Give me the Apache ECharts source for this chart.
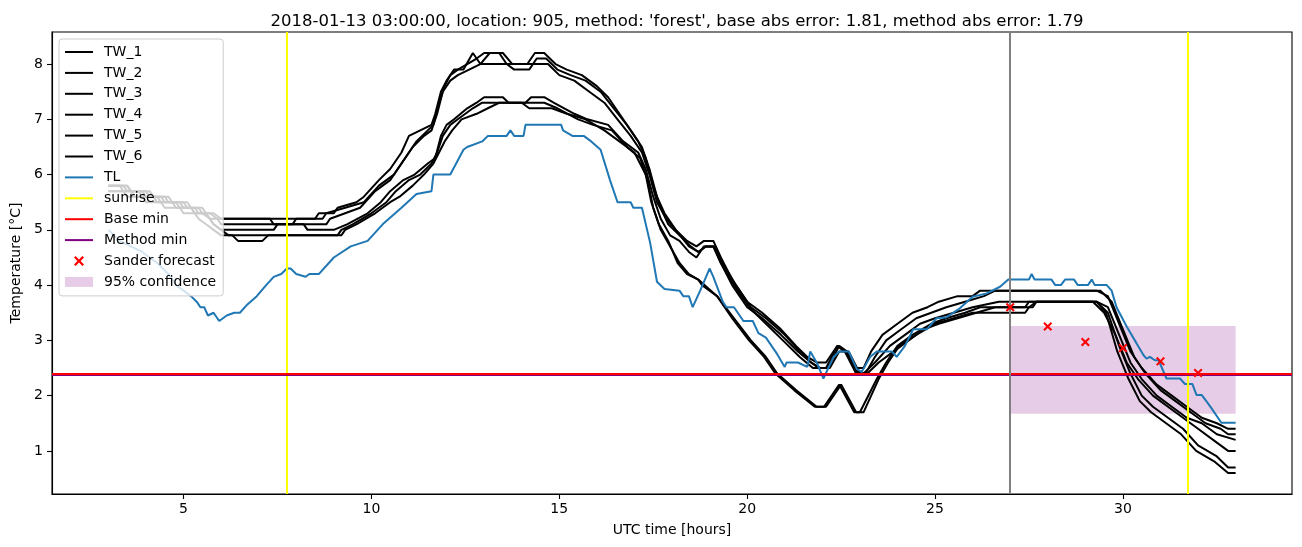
<!DOCTYPE html>
<html>
<head>
<meta charset="utf-8">
<script src="https://cdn.jsdelivr.net/npm/echarts@6/dist/echarts.min.js"></script>
<style>
  html, body { margin: 0; padding: 0; background: #fff; }
  #chart { width: 1302px; height: 547px; }
</style>
</head>
<body>
<div id="chart"></div>
<script>
// --- data: [hour, temperature] ---
var tw1 = [[3.0,5.8],[3.4,5.8],[3.5,5.7],[3.9,5.7],[4.0,5.6],[4.4,5.6],[4.5,5.5],[4.9,5.5],[5.0,5.4],[5.3,5.4],[5.4,5.3],[5.7,5.3],[5.9,5.2],[8.5,5.2],[8.6,5.3],[9.0,5.3],[9.1,5.4],[9.6,5.5],[9.8,5.6],[10.2,5.9],[10.5,6.1],[10.8,6.4],[11.0,6.7],[11.3,6.8],[11.6,6.9],[11.7,7.1],[11.85,7.5],[12.0,7.7],[12.2,7.9],[12.45,7.9],[12.7,8.2],[12.9,8.0],[13.15,8.2],[13.5,8.2],[13.75,8.0],[14.15,8.0],[14.35,8.2],[14.6,8.2],[14.9,8.0],[15.2,7.9],[15.6,7.8],[16.0,7.6],[16.3,7.4],[16.6,7.1],[16.9,6.8],[17.2,6.5],[17.4,6.1],[17.6,5.6],[17.8,5.3],[18.1,5.0],[18.4,4.8],[18.65,4.7],[18.85,4.8],[19.1,4.8],[19.3,4.5],[19.6,4.1],[20.0,3.7],[20.4,3.5],[20.9,3.2],[21.3,2.9],[21.6,2.7],[21.85,2.6],[22.1,2.6],[22.4,2.9],[22.6,2.8],[22.9,2.5],[23.1,2.5],[23.3,2.8],[23.6,3.1],[24.0,3.3],[24.4,3.5],[24.8,3.6],[25.1,3.7],[25.6,3.8],[26.0,3.8],[26.2,3.9],[29.3,3.9],[29.6,3.8],[29.9,3.3],[30.2,2.8],[30.5,2.5],[30.9,2.2],[31.3,2.0],[31.7,1.8],[32.1,1.6],[32.5,1.5],[32.8,1.4],[33.0,1.4]];
var tw2 = [[3.0,5.8],[3.5,5.8],[3.6,5.7],[4.1,5.7],[4.2,5.6],[4.6,5.6],[4.7,5.5],[5.1,5.5],[5.2,5.4],[5.5,5.4],[5.6,5.3],[5.8,5.3],[6.0,5.2],[7.3,5.2],[7.4,5.1],[7.9,5.1],[8.0,5.2],[8.7,5.2],[8.8,5.3],[9.3,5.4],[9.8,5.5],[10.2,5.8],[10.6,6.0],[10.9,6.3],[11.2,6.6],[11.5,6.8],[11.65,6.9],[11.8,7.3],[11.95,7.6],[12.1,7.8],[12.3,7.9],[12.55,8.0],[12.8,8.1],[13.0,8.2],[13.4,8.2],[13.6,8.0],[13.8,7.9],[14.2,7.9],[14.4,8.1],[14.65,8.1],[14.95,7.9],[15.3,7.8],[15.7,7.7],[16.1,7.5],[16.45,7.2],[16.8,6.9],[17.1,6.6],[17.3,6.3],[17.5,5.8],[17.7,5.4],[17.9,5.1],[18.2,4.9],[18.5,4.7],[18.7,4.6],[18.9,4.7],[19.15,4.7],[19.35,4.4],[19.7,4.0],[20.1,3.6],[20.5,3.4],[21.0,3.1],[21.4,2.8],[21.7,2.6],[21.9,2.5],[22.15,2.5],[22.45,2.9],[22.65,2.8],[22.95,2.4],[23.15,2.4],[23.4,2.7],[23.7,3.0],[24.1,3.2],[24.5,3.4],[24.9,3.5],[25.3,3.6],[25.8,3.7],[26.3,3.8],[26.6,3.9],[29.4,3.9],[29.7,3.7],[30.0,3.2],[30.3,2.7],[30.6,2.4],[31.0,2.1],[31.4,1.9],[31.8,1.7],[32.2,1.5],[32.6,1.4],[32.8,1.3],[33.0,1.3]];
var tw3 = [[3.0,5.7],[3.6,5.7],[3.7,5.6],[4.2,5.6],[4.3,5.5],[4.7,5.5],[4.8,5.4],[5.2,5.4],[5.3,5.3],[5.6,5.3],[5.7,5.2],[5.9,5.2],[6.0,5.1],[8.8,5.1],[8.9,5.2],[9.3,5.3],[9.7,5.4],[10.1,5.7],[10.5,5.9],[10.8,6.2],[11.1,6.5],[11.4,6.7],[11.6,6.8],[11.75,7.1],[11.9,7.5],[12.1,7.7],[12.3,7.8],[12.6,7.9],[12.9,8.0],[14.7,8.0],[15.0,7.8],[15.4,7.7],[15.8,7.5],[16.2,7.3],[16.55,7.0],[16.9,6.7],[17.2,6.4],[17.4,6.0],[17.6,5.5],[17.85,5.2],[18.1,5.0],[18.45,4.7],[18.7,4.6],[18.9,4.7],[19.1,4.7],[19.3,4.4],[19.65,4.0],[20.05,3.6],[20.5,3.3],[20.95,3.0],[21.4,2.7],[21.75,2.5],[22.1,2.5],[22.4,2.9],[22.6,2.8],[22.9,2.4],[23.1,2.4],[23.4,2.6],[23.8,2.9],[24.2,3.1],[24.6,3.3],[25.0,3.4],[25.5,3.5],[26.0,3.6],[26.7,3.7],[29.3,3.7],[29.6,3.6],[29.9,3.1],[30.2,2.6],[30.5,2.3],[30.9,2.0],[31.3,1.8],[31.7,1.6],[32.1,1.5],[32.5,1.3],[33.0,1.2]];
var tw4 = [[3.0,5.8],[3.3,5.8],[3.4,5.7],[3.8,5.7],[3.9,5.6],[4.3,5.6],[4.4,5.5],[4.8,5.5],[4.9,5.4],[5.2,5.4],[5.3,5.3],[5.6,5.3],[5.7,5.2],[5.8,5.1],[6.0,5.0],[7.4,5.0],[7.5,5.1],[8.2,5.1],[8.3,5.0],[9.0,5.0],[9.35,5.1],[9.9,5.3],[10.25,5.5],[10.5,5.7],[10.85,5.9],[11.15,6.0],[11.5,6.2],[11.7,6.3],[11.85,6.7],[12.0,6.9],[12.2,7.0],[12.55,7.2],[12.8,7.3],[13.0,7.4],[13.5,7.4],[13.65,7.3],[14.1,7.3],[14.25,7.4],[14.6,7.4],[14.85,7.3],[15.4,7.1],[15.75,7.0],[16.3,6.9],[16.7,6.6],[17.1,6.4],[17.3,6.1],[17.5,5.6],[17.7,5.2],[17.95,4.9],[18.2,4.8],[18.45,4.6],[18.65,4.5],[18.85,4.7],[19.1,4.7],[19.3,4.4],[19.6,4.0],[20.0,3.6],[20.4,3.4],[20.9,3.1],[21.35,2.8],[21.7,2.6],[21.95,2.5],[22.2,2.5],[22.45,2.8],[22.7,2.8],[23.0,2.4],[23.2,2.4],[23.5,2.6],[23.9,2.8],[24.3,3.0],[24.7,3.2],[25.1,3.3],[25.6,3.4],[26.1,3.5],[26.6,3.6],[27.4,3.6],[27.5,3.7],[29.2,3.7],[29.5,3.5],[29.8,3.1],[30.1,2.6],[30.4,2.3],[30.8,2.0],[31.2,1.8],[31.6,1.6],[32.0,1.4],[32.4,1.2],[32.8,1.0],[33.0,1.0]];
var tw5 = [[3.0,5.8],[3.5,5.8],[3.6,5.7],[4.0,5.7],[4.1,5.6],[4.5,5.6],[4.6,5.5],[5.0,5.5],[5.1,5.4],[5.4,5.4],[5.5,5.3],[5.7,5.2],[5.8,5.1],[6.0,5.0],[6.2,4.9],[9.1,4.9],[9.2,5.0],[9.5,5.1],[10.0,5.3],[10.4,5.5],[10.65,5.7],[11.0,5.9],[11.3,6.0],[11.6,6.2],[11.75,6.4],[11.9,6.7],[12.1,6.9],[12.3,7.0],[12.7,7.2],[12.95,7.3],[14.6,7.3],[14.95,7.2],[15.5,7.0],[15.9,6.9],[16.4,6.8],[16.8,6.5],[17.15,6.3],[17.35,5.9],[17.5,5.4],[17.7,5.0],[17.95,4.7],[18.2,4.4],[18.45,4.2],[18.7,4.1],[19.2,3.8],[19.65,3.4],[20.1,3.0],[20.5,2.7],[20.8,2.4],[21.3,2.1],[21.85,1.8],[22.05,1.8],[22.45,2.2],[22.85,1.7],[23.0,1.7],[23.45,2.3],[23.7,2.6],[24.0,2.9],[24.4,3.1],[24.9,3.3],[25.3,3.4],[25.8,3.5],[26.2,3.6],[27.6,3.6],[27.7,3.7],[29.3,3.7],[29.6,3.5],[29.9,2.9],[30.2,2.4],[30.5,2.0],[30.8,1.8],[31.2,1.6],[31.6,1.4],[32.0,1.1],[32.5,0.9],[32.8,0.7],[33.0,0.7]];
var tw6 = [[3.0,5.7],[3.4,5.7],[3.5,5.6],[3.9,5.6],[4.0,5.5],[4.4,5.5],[4.5,5.4],[4.9,5.4],[5.0,5.3],[5.3,5.3],[5.4,5.2],[5.6,5.1],[5.8,5.0],[6.0,4.9],[6.3,4.9],[6.45,4.8],[7.1,4.8],[7.25,4.9],[9.2,4.9],[9.3,5.0],[9.6,5.1],[10.1,5.3],[10.5,5.5],[10.75,5.6],[11.1,5.8],[11.4,6.0],[11.65,6.2],[11.8,6.4],[11.95,6.6],[12.15,6.8],[12.4,7.0],[12.8,7.1],[13.1,7.2],[13.4,7.3],[14.0,7.3],[14.2,7.2],[14.8,7.2],[15.2,7.1],[15.7,7.0],[16.2,6.8],[16.6,6.6],[17.0,6.4],[17.3,6.0],[17.45,5.5],[17.65,5.1],[17.9,4.8],[18.15,4.4],[18.4,4.2],[18.7,4.1],[18.8,4.0],[19.2,3.8],[19.6,3.4],[20.05,3.0],[20.45,2.7],[20.75,2.4],[21.25,2.1],[21.8,1.8],[22.1,1.8],[22.5,2.2],[22.9,1.7],[23.1,1.7],[23.5,2.3],[23.75,2.6],[24.05,2.9],[24.5,3.1],[25.0,3.3],[25.5,3.4],[26.0,3.5],[27.4,3.5],[27.5,3.6],[27.7,3.7],[29.3,3.7],[29.55,3.5],[29.85,2.8],[30.15,2.3],[30.45,1.9],[30.75,1.7],[31.15,1.5],[31.55,1.3],[31.95,1.0],[32.45,0.8],[32.8,0.6],[33.0,0.6]];
var tl = [[3.0,5.0],[3.3,4.8],[3.6,4.7],[3.9,4.6],[4.1,4.5],[4.3,4.4],[4.6,4.2],[4.8,4.0],[5.0,3.9],[5.2,3.8],[5.35,3.7],[5.45,3.6],[5.55,3.6],[5.65,3.45],[5.8,3.5],[5.95,3.35],[6.05,3.4],[6.15,3.45],[6.35,3.5],[6.5,3.5],[6.7,3.65],[6.95,3.8],[7.2,4.0],[7.4,4.15],[7.6,4.2],[7.75,4.3],[7.85,4.3],[8.0,4.2],[8.25,4.15],[8.35,4.2],[8.6,4.2],[9.0,4.5],[9.45,4.7],[9.9,4.8],[10.3,5.1],[10.8,5.4],[11.2,5.65],[11.6,5.7],[11.65,6.0],[12.1,6.0],[12.45,6.45],[12.55,6.5],[12.95,6.6],[13.1,6.7],[13.6,6.7],[13.7,6.8],[13.8,6.7],[14.05,6.7],[14.1,6.9],[15.05,6.9],[15.1,6.8],[15.35,6.7],[15.65,6.7],[15.85,6.6],[16.1,6.45],[16.35,5.9],[16.55,5.5],[16.9,5.5],[16.97,5.4],[17.2,5.4],[17.42,4.76],[17.6,4.06],[17.8,3.93],[18.2,3.9],[18.3,3.8],[18.45,3.8],[18.55,3.6],[18.75,3.9],[19.0,4.3],[19.1,4.15],[19.35,3.7],[19.45,3.6],[19.65,3.6],[19.9,3.35],[20.15,3.35],[20.3,3.13],[20.5,3.05],[20.8,2.75],[21.0,2.52],[21.05,2.6],[21.35,2.6],[21.6,2.52],[21.68,2.8],[21.85,2.6],[22.03,2.31],[22.3,2.7],[22.45,2.8],[22.7,2.8],[22.92,2.48],[23.05,2.43],[23.27,2.7],[23.45,2.8],[23.85,2.8],[23.98,2.7],[24.2,2.9],[24.42,3.2],[24.78,3.2],[25.04,3.4],[25.31,3.42],[25.66,3.58],[26.0,3.79],[26.38,3.85],[26.73,3.97],[26.95,4.1],[27.5,4.1],[27.57,4.2],[27.65,4.1],[28.1,4.1],[28.2,4.0],[28.35,4.0],[28.46,4.1],[28.7,4.1],[28.8,4.0],[29.07,4.0],[29.17,4.1],[29.25,4.0],[29.57,4.0],[29.7,3.9],[29.83,3.6],[30.1,3.25],[30.36,2.95],[30.55,2.73],[30.63,2.67],[30.72,2.7],[30.85,2.64],[30.95,2.64],[31.16,2.31],[31.52,2.31],[31.65,2.21],[31.85,2.21],[31.96,2.01],[32.1,2.01],[32.23,1.89],[32.36,1.77],[32.4,1.8],[32.62,1.51],[33.0,1.51]];

var forecastHours = [27, 28, 29, 30, 31, 32];
var forecastTemps = [3.6, 3.25, 2.97, 2.86, 2.62, 2.41];
var sunriseHours = [7.74, 31.73];
var forecastStart = 27;
var baseMin = 2.4;
var methodMin = 2.375;
var bandStart = 27, bandEnd = 33, bandLow = 1.67, bandHigh = 3.26;
var xTicks = [5, 10, 15, 20, 25, 30];
var yTicks = [1, 2, 3, 4, 5, 6, 7, 8];

var font = 'DejaVu Sans';
var lineIcon = 'path://M0,0h28v2h-28z';
var crossIcon = 'path://M0,1.6L1.6,0L5,3.4L8.4,0L10,1.6L6.6,5L10,8.4L8.4,10L5,6.6L1.6,10L0,8.4L3.4,5Z';

function twSeries(name, data) {
  return {
    name: name, type: 'line', data: data, symbol: 'none', z: 2,
    lineStyle: { color: '#000', width: 2 }, itemStyle: { color: '#000' }
  };
}

function vline(name, color, values, z) {
  return {
    name: name, type: 'line', data: [], symbol: 'none', z: z,
    lineStyle: { color: color, width: 2 }, itemStyle: { color: color },
    markLine: {
      silent: true, symbol: ['none', 'none'], label: { show: false },
      lineStyle: { color: color, width: 2, type: 'solid' },
      data: values
    }
  };
}

var chart = echarts.init(document.getElementById('chart'));
chart.setOption({
  animation: false,
  textStyle: { fontFamily: font },
  title: {
    text: "2018-01-13 03:00:00, location: 905, method: 'forest', base abs error: 1.81, method abs error: 1.79",
    left: 672, top: 8, textAlign: 'center',
    textStyle: { fontFamily: font, fontSize: 16.5, fontWeight: 'normal', color: '#000' }
  },
  grid: { left: 52, right: 10, top: 32, bottom: 53, show: true, borderColor: '#000', borderWidth: 1.1, backgroundColor: 'transparent' },
  legend: {
    orient: 'vertical', left: 59, top: 39,
    itemWidth: 28, itemHeight: 10, itemGap: 6.9,
    padding: [6, 7, 7, 6],
    backgroundColor: 'rgba(255,255,255,0.8)', borderColor: '#cccccc', borderWidth: 1, borderRadius: 3,
    textStyle: { fontFamily: font, fontSize: 14, lineHeight: 14, color: '#000', padding: [0, 0, 0, 6] },
    data: [
      { name: 'TW_1', icon: lineIcon }, { name: 'TW_2', icon: lineIcon }, { name: 'TW_3', icon: lineIcon },
      { name: 'TW_4', icon: lineIcon }, { name: 'TW_5', icon: lineIcon }, { name: 'TW_6', icon: lineIcon },
      { name: 'TL', icon: lineIcon }, { name: 'sunrise', icon: lineIcon },
      { name: 'Base min', icon: lineIcon }, { name: 'Method min', icon: lineIcon },
      { name: 'Sander forecast', icon: crossIcon, itemStyle: { color: '#ff0000' } },
      { name: '95% confidence', icon: 'rect', itemStyle: { color: 'rgba(128,0,128,0.2)' } }
    ]
  },
  xAxis: {
    type: 'value', min: 1.5, max: 34.5,
    name: 'UTC time [hours]', nameLocation: 'middle', nameGap: 29,
    nameTextStyle: { fontFamily: font, fontSize: 14, color: '#000' },
    axisLine: { lineStyle: { color: '#000', width: 1.1 } },
    axisTick: { show: true, length: 5, lineStyle: { color: '#000', width: 1.1 }, customValues: xTicks },
    axisLabel: { fontFamily: font, fontSize: 14, color: '#000', margin: 8, customValues: xTicks },
    splitLine: { show: false }
  },
  yAxis: {
    type: 'value', min: 0.22, max: 8.58,
    name: 'Temperature [°C]', nameLocation: 'middle', nameGap: 27, nameRotate: 90,
    nameTextStyle: { fontFamily: font, fontSize: 14, color: '#000' },
    axisLine: { show: true, lineStyle: { color: '#000', width: 1.1 } },
    axisTick: { show: true, length: 5, lineStyle: { color: '#000', width: 1.1 }, customValues: yTicks },
    axisLabel: { fontFamily: font, fontSize: 14, color: '#000', margin: 9, customValues: yTicks },
    splitLine: { show: false }
  },
  series: [
    {
      name: '95% confidence', type: 'line', data: [], symbol: 'none', z: 1,
      itemStyle: { color: 'rgba(128,0,128,0.2)' },
      markArea: {
        silent: true,
        itemStyle: { color: 'rgba(128,0,128,0.2)' },
        data: [[{ xAxis: bandStart, yAxis: bandHigh }, { xAxis: bandEnd, yAxis: bandLow }]]
      }
    },
    twSeries('TW_1', tw1), twSeries('TW_2', tw2), twSeries('TW_3', tw3),
    twSeries('TW_4', tw4), twSeries('TW_5', tw5), twSeries('TW_6', tw6),
    {
      name: 'TL', type: 'line', data: tl, symbol: 'none', z: 3,
      lineStyle: { color: '#1f77b4', width: 2 }, itemStyle: { color: '#1f77b4' }
    },
    vline('sunrise', '#ffff00', sunriseHours.map(function (h) { return { xAxis: h }; }), 4),
    vline('Method min', '#800080', [{ yAxis: methodMin }], 4),
    vline('Base min', '#ff0000', [{ yAxis: baseMin }], 5),
    vline('now', '#808080', [{ xAxis: forecastStart }], 5),
    {
      name: 'Sander forecast', type: 'scatter', z: 6,
      symbol: crossIcon, symbolSize: 9,
      itemStyle: { color: '#ff0000', opacity: 1 },
      data: forecastHours.map(function (h, i) { return [h, forecastTemps[i]]; })
    }
  ]
});
</script>
</body>
</html>
